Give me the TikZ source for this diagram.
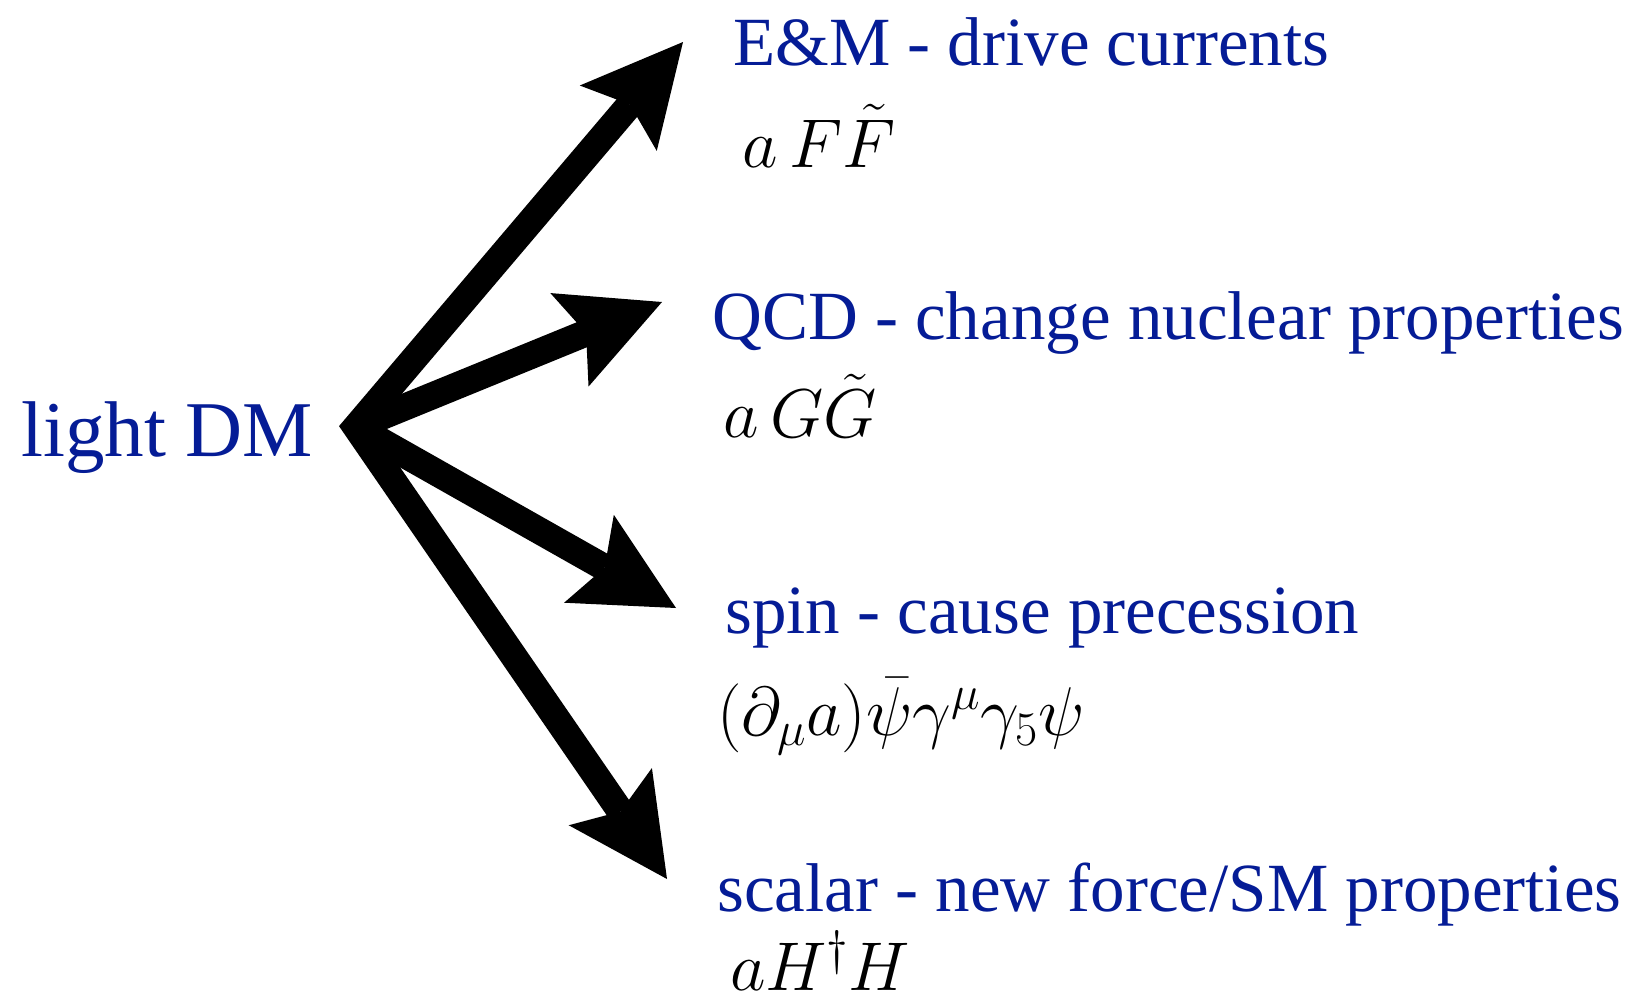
\RequirePackage{fix-cm}
\documentclass[tikz,border=0pt]{standalone}
\usepackage{fontspec}
\setmainfont{Liberation Serif}
\usetikzlibrary{arrows.meta}
\definecolor{dmblue}{RGB}{5,28,150}
\begin{document}
\begin{tikzpicture}[x=1pt,y=-1pt,
  lab/.style={inner sep=0pt,anchor=base west,text=dmblue,font=\fontsize{69}{80}\selectfont},
  eq/.style={inner sep=0pt,anchor=base west,text=black,font=\fontsize{69}{80}\selectfont},
  bigarrow/.style={line width=27pt,line cap=butt,line join=miter,draw=black,
    -{Stealth[length=100pt,width=101pt,inset=18pt,line width=0pt]}},
  bothway/.style={line width=27pt,line cap=butt,line join=miter,draw=black,
    {Stealth[length=100pt,width=101pt,inset=18pt,line width=0pt]}-{Stealth[length=100pt,width=101pt,inset=18pt,line width=0pt]}}]
\useasboundingbox[fill=white] (0,0) rectangle (1635,1001);
\node[lab,font=\fontsize{79}{90}\selectfont] (dm) at (21,456) {light DM};
\coordinate (o) at (356,427);
\coordinate (t1) at (683,42);
\coordinate (t2) at (662,302);
\coordinate (t3) at (676,608);
\coordinate (t4) at (667,879);
\draw[bothway] (t1) -- (o) -- (t4);
\draw[bigarrow] (o) -- (t2);
\draw[bigarrow] (o) -- (t3);
\node[lab] (em) at (733,65) {E\&M - drive currents};
\node[eq] (emeq) at (742,167) {$a\,F\tilde F$};
\node[lab] (qcd) at (712,339) {QCD - change nuclear properties};
\node[eq] (qcdeq) at (723,437) {$a\,G\tilde G$};
\node[lab] (spin) at (725,633) {spin - cause precession};
\node[eq] (spineq) at (717,735) {$(\partial_\mu a)\bar\psi\gamma^\mu\gamma_5\psi$};
\node[lab] (sc) at (717,911) {scalar - new force/SM properties};
\node[eq] (sceq) at (730,990) {$aH^\dagger H$};
\end{tikzpicture}
\end{document}
